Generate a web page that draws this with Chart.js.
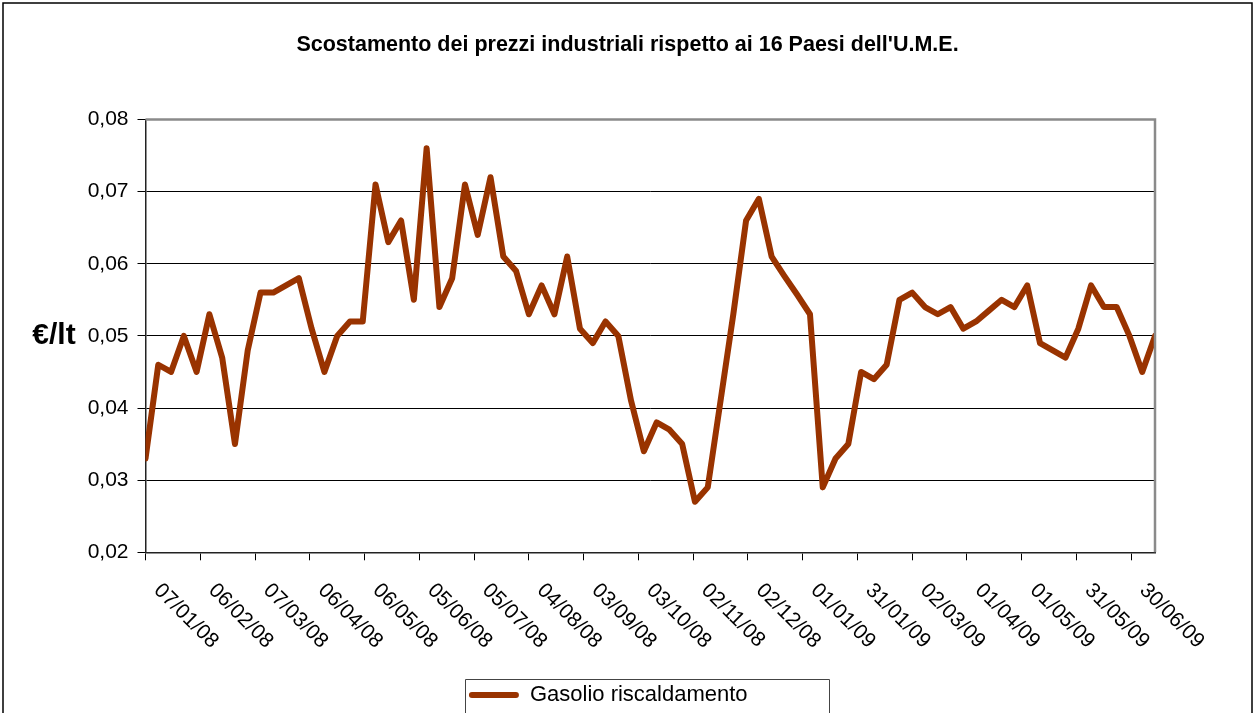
<!DOCTYPE html>
<html>
<head>
<meta charset="utf-8">
<script src="https://cdn.jsdelivr.net/npm/chart.js@4.4.0/dist/chart.umd.min.js"></script>
<style>
html,body{margin:0;padding:0;background:#fff;}
#wrap{width:1255px;height:713px;position:relative;overflow:hidden;}
canvas{display:block;}
</style>
</head>
<body>
<div id="wrap"><canvas id="c" width="1255" height="713"></canvas></div>
<script>
// ---------- data ----------
const chartTitle = "Scostamento dei prezzi industriali rispetto ai 16 Paesi dell'U.M.E.";
const yAxisTitle = "€/lt";
const seriesName = "Gasolio riscaldamento";

const dates = [
  "07/01/08","14/01/08","21/01/08","28/01/08","04/02/08","11/02/08","18/02/08","25/02/08",
  "03/03/08","10/03/08","17/03/08","24/03/08","31/03/08","07/04/08","14/04/08","21/04/08",
  "28/04/08","05/05/08","12/05/08","19/05/08","26/05/08","02/06/08","09/06/08","16/06/08",
  "23/06/08","30/06/08","07/07/08","14/07/08","21/07/08","28/07/08","04/08/08","11/08/08",
  "18/08/08","25/08/08","01/09/08","08/09/08","15/09/08","22/09/08","29/09/08","06/10/08",
  "13/10/08","20/10/08","27/10/08","03/11/08","10/11/08","17/11/08","24/11/08","01/12/08",
  "08/12/08","15/12/08","22/12/08","29/12/08","05/01/09","12/01/09","19/01/09","26/01/09",
  "02/02/09","09/02/09","16/02/09","23/02/09","02/03/09","09/03/09","16/03/09","23/03/09",
  "30/03/09","06/04/09","13/04/09","20/04/09","27/04/09","04/05/09","11/05/09","18/05/09",
  "25/05/09","01/06/09","08/06/09","15/06/09","22/06/09","29/06/09","06/07/09","13/07/09"
];

const values = [
  0.033,0.046,0.045,0.050,0.045,0.053,0.047,0.035,
  0.048,0.056,0.056,0.057,0.058,0.051,0.045,0.050,
  0.052,0.052,0.071,0.063,0.066,0.055,0.076,0.054,
  0.058,0.071,0.064,0.072,0.061,0.059,0.053,0.057,
  0.053,0.061,0.051,0.049,0.052,0.050,0.041,0.034,
  0.038,0.037,0.035,0.027,0.029,0.041,0.053,0.066,
  0.069,0.061,0.0583,0.0557,0.053,0.029,0.033,0.035,
  0.045,0.044,0.046,0.055,0.056,0.054,0.053,0.054,
  0.051,0.052,0.0535,0.055,0.054,0.057,0.049,0.048,
  0.047,0.051,0.057,0.054,0.054,0.050,0.045,0.050
];

const xTickLabels = [
  "07/01/08","06/02/08","07/03/08","06/04/08","06/05/08","05/06/08","05/07/08",
  "04/08/08","03/09/08","03/10/08","02/11/08","02/12/08","01/01/09","31/01/09",
  "02/03/09","01/04/09","01/05/09","31/05/09","30/06/09"
];

const yTickValues = [0.02,0.03,0.04,0.05,0.06,0.07,0.08];
const yTickLabels = ["0,02","0,03","0,04","0,05","0,06","0,07","0,08"];

// ---------- helpers ----------
function dayNum(s){
  const p = s.split('/').map(Number);
  return Math.round(Date.UTC(2000 + p[2], p[1] - 1, p[0]) / 86400000);
}
const origin = dayNum(dates[0]);
const points = dates.map((d, i) => ({x: dayNum(d) - origin, y: values[i]}));
const xTickDays = xTickLabels.map(l => dayNum(l) - origin);

const FONT = "'Liberation Sans', Arial, sans-serif";
Chart.defaults.font.family = FONT;
Chart.defaults.color = '#000';

// Linear scale whose rotated labels hang down-right from each tick
class RotDateScale extends Chart.LinearScale {
  _getXAxisLabelAlignment() { return 'left'; }
  _computeLabelItems(chartArea) {
    const items = super._computeLabelItems(chartArea);
    const dx = this.options.ticks.shiftX || 0;
    items.forEach(it => {
      if (it.options && it.options.translation) it.options.translation[0] += dx;
    });
    return items;
  }
}
RotDateScale.id = 'rotdate';
Chart.register(RotDateScale);

const decorPlugin = {
  id: 'decor',
  afterLayout(chart) {
    // centre the title over the whole canvas
    if (chart.titleBlock) {
      chart.titleBlock.left = 0;
      chart.titleBlock.right = chart.width;
      chart.titleBlock.width = chart.width;
    }
  },
  beforeDraw(chart) {
    const ctx = chart.ctx;
    ctx.save();
    ctx.fillStyle = '#fff';
    ctx.fillRect(0, 0, chart.width, chart.height);
    ctx.restore();
  },
  afterDraw(chart) {
    const ctx = chart.ctx;
    const a = chart.chartArea;
    ctx.save();
    // plot area border (top & right)
    ctx.strokeStyle = '#8a8a8a';
    ctx.lineWidth = 2.5;
    ctx.beginPath();
    ctx.moveTo(a.left, a.top);
    ctx.lineTo(a.right, a.top);
    ctx.lineTo(a.right, a.bottom);
    ctx.stroke();
    // y axis title (horizontal)
    ctx.fillStyle = '#000';
    ctx.font = 'bold 30px ' + FONT;
    ctx.textAlign = 'center';
    ctx.textBaseline = 'middle';
    ctx.fillText(yAxisTitle, 54, (a.top + a.bottom) / 2);
    // legend frame
    const lg = chart.legend;
    if (lg && lg.legendHitBoxes && lg.legendHitBoxes.length) {
      const h = lg.legendHitBoxes[0];
      ctx.strokeStyle = '#444';
      ctx.lineWidth = 1;
      const l = Math.round(h.left - 4) + 0.5;
      const t = Math.round(h.top - 5) + 0.5;
      ctx.beginPath();
      ctx.moveTo(l, 720);
      ctx.lineTo(l, t);
      ctx.lineTo(l + 364, t);
      ctx.lineTo(l + 364, 720);
      ctx.stroke();
    }
    // outer frame
    ctx.strokeStyle = '#000';
    ctx.lineWidth = 1.5;
    ctx.beginPath();
    ctx.moveTo(3, 720);
    ctx.lineTo(3, 3);
    ctx.lineTo(1252, 3);
    ctx.lineTo(1252, 720);
    ctx.stroke();
    ctx.restore();
  }
};

new Chart(document.getElementById('c'), {
  type: 'line',
  data: {
    datasets: [{
      label: seriesName,
      data: points,
      borderColor: '#993300',
      backgroundColor: '#993300',
      borderWidth: 6,
      pointRadius: 0,
      pointHoverRadius: 0,
      tension: 0,
      borderJoinStyle: 'round',
      borderCapStyle: 'round',
      fill: false
    }]
  },
  options: {
    responsive: false,
    animation: false,
    devicePixelRatio: 1,
    layout: {padding: {left: 0, right: 38.5, top: 0, bottom: -3}},
    plugins: {
      title: {
        display: true,
        text: chartTitle,
        color: '#000',
        font: {size: 21.5, weight: 'bold', family: FONT},
        padding: {top: 32, bottom: 61.7}
      },
      legend: {
        display: true,
        position: 'bottom',
        labels: {
          font: {size: 22, family: FONT},
          color: '#000',
          boxWidth: 50,
          boxHeight: 6,
          padding: 10,
          useBorderRadius: true,
          borderRadius: 3,
          generateLabels(chart) {
            const items = Chart.defaults.plugins.legend.labels.generateLabels(chart);
            items.forEach(i => { i.lineWidth = 0; i.fillStyle = '#993300'; i.strokeStyle = '#993300'; });
            return items;
          }
        }
      },
      tooltip: {enabled: false}
    },
    scales: {
      x: {
        type: 'rotdate',
        min: 0,
        max: points[points.length - 1].x,
        afterBuildTicks(s) { s.ticks = xTickDays.map(v => ({value: v})); },
        afterFit(s) { s.height = 716 - 42 - 552.3; },
        ticks: {
          autoSkip: false,
          minRotation: -45,
          maxRotation: -45,
          padding: 18,
          shiftX: 11.5,
          font: {size: 21, family: FONT},
          color: '#000',
          callback: (v, i) => xTickLabels[i]
        },
        grid: {display: true, drawOnChartArea: false, drawTicks: true, tickLength: 8, color: '#000', lineWidth: 1},
        border: {display: true, color: '#222', width: 1.5}
      },
      y: {
        type: 'linear',
        position: 'left',
        min: 0.02,
        max: 0.08,
        afterBuildTicks(s) { s.ticks = yTickValues.map(v => ({value: v})); },
        afterFit(s) { s.width = 145.5; },
        ticks: {
          padding: 9,
          font: {size: 21, family: FONT},
          color: '#000',
          callback: (v, i) => yTickLabels[i]
        },
        grid: {display: true, drawTicks: true, tickLength: 8, color: '#000', lineWidth: 1},
        border: {display: true, color: '#222', width: 1.5}
      },
      y2: {
        type: 'linear',
        position: 'right',
        display: true,
        afterFit(s) { s.width = 1255 - 38.5 - 1155; },
        ticks: {display: false},
        grid: {display: false, drawTicks: false},
        border: {display: false}
      }
    }
  },
  plugins: [decorPlugin]
});
</script>
</body>
</html>
